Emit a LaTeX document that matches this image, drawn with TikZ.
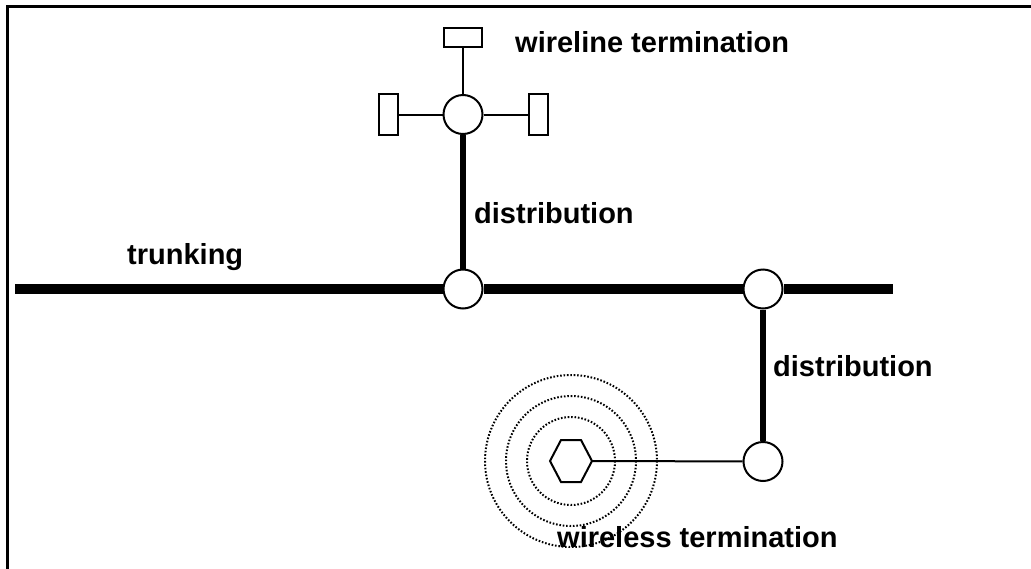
\documentclass[tikz,border=0pt]{standalone}
\usepackage{fontspec}
\setmainfont{Liberation Sans}
\usetikzlibrary{positioning}

\begin{document}
\begin{tikzpicture}[x=1pt,y=-1pt,
    junction/.style={circle,draw,fill=white,line width=2pt,minimum size=39pt,inner sep=0pt},
    termbox/.style={rectangle,draw,fill=white,line width=2pt,inner sep=0pt},
    lbl/.style={anchor=base west,inner sep=0pt,font=\fontsize{29}{32}\selectfont\bfseries},
    trunk/.style={line width=9.5pt},
    feeder/.style={line width=6pt},
    drop/.style={line width=2pt},
    ripple/.style={line width=2pt,dash pattern=on 1.6pt off 1.8pt}]
  \useasboundingbox (0,0) rectangle (1031,568);
  % frame
  \draw[line width=2.5pt] (1035,6.5) -- (7.5,6.5) -- (7.5,572);

  % wireline side
  \node[junction] (hub) at (463,114.5) {};
  \node[termbox,minimum width=38pt,minimum height=19pt] (boxN) at (463,37.5) {};
  \node[termbox,minimum width=19pt,minimum height=41pt] (boxW) at (388.5,114.5) {};
  \node[termbox,minimum width=19pt,minimum height=41pt] (boxE) at (538.5,114.5) {};
  \draw[drop] (hub) -- (boxN);
  \draw[drop] (hub) -- (boxW);
  \draw[drop] (hub) -- (boxE);

  % trunk with its two taps
  \coordinate (trunkW) at (15,289);
  \coordinate (trunkE) at (893,289);
  \node[junction] (tapA) at (463,289) {};
  \node[junction] (tapB) at (763,289) {};
  \draw[trunk] (trunkW) -- (tapA) -- (tapB) -- (trunkE);
  \draw[feeder] (tapA) -- (hub);

  % wireless side
  \node[junction] (cell) at (763,461.5) {};
  \draw[feeder] (tapB) -- (cell);
  \coordinate (ant) at (571,461);
  \coordinate (antE) at (592,461);
  \draw[drop,line join=miter] (550,461) -- (561,440) -- (581,440) -- (antE)
    -- (581,482) -- (561,482) -- cycle;
  \foreach \r in {44,65,86}
    \draw[ripple] (ant) circle[radius=\r];
  \draw[drop] (antE) -- (cell);

  % labels
  \node[lbl] (tWire) at (515,52) {wireline termination};
  \node[lbl] (tDistA) at (474,223) {distribution};
  \node[lbl] (tTrunk) at (127,264) {trunking};
  \node[lbl] (tDistB) at (773,376) {distribution};
  \node[lbl] (tWless) at (557,547) {wireless termination};
\end{tikzpicture}
\end{document}
